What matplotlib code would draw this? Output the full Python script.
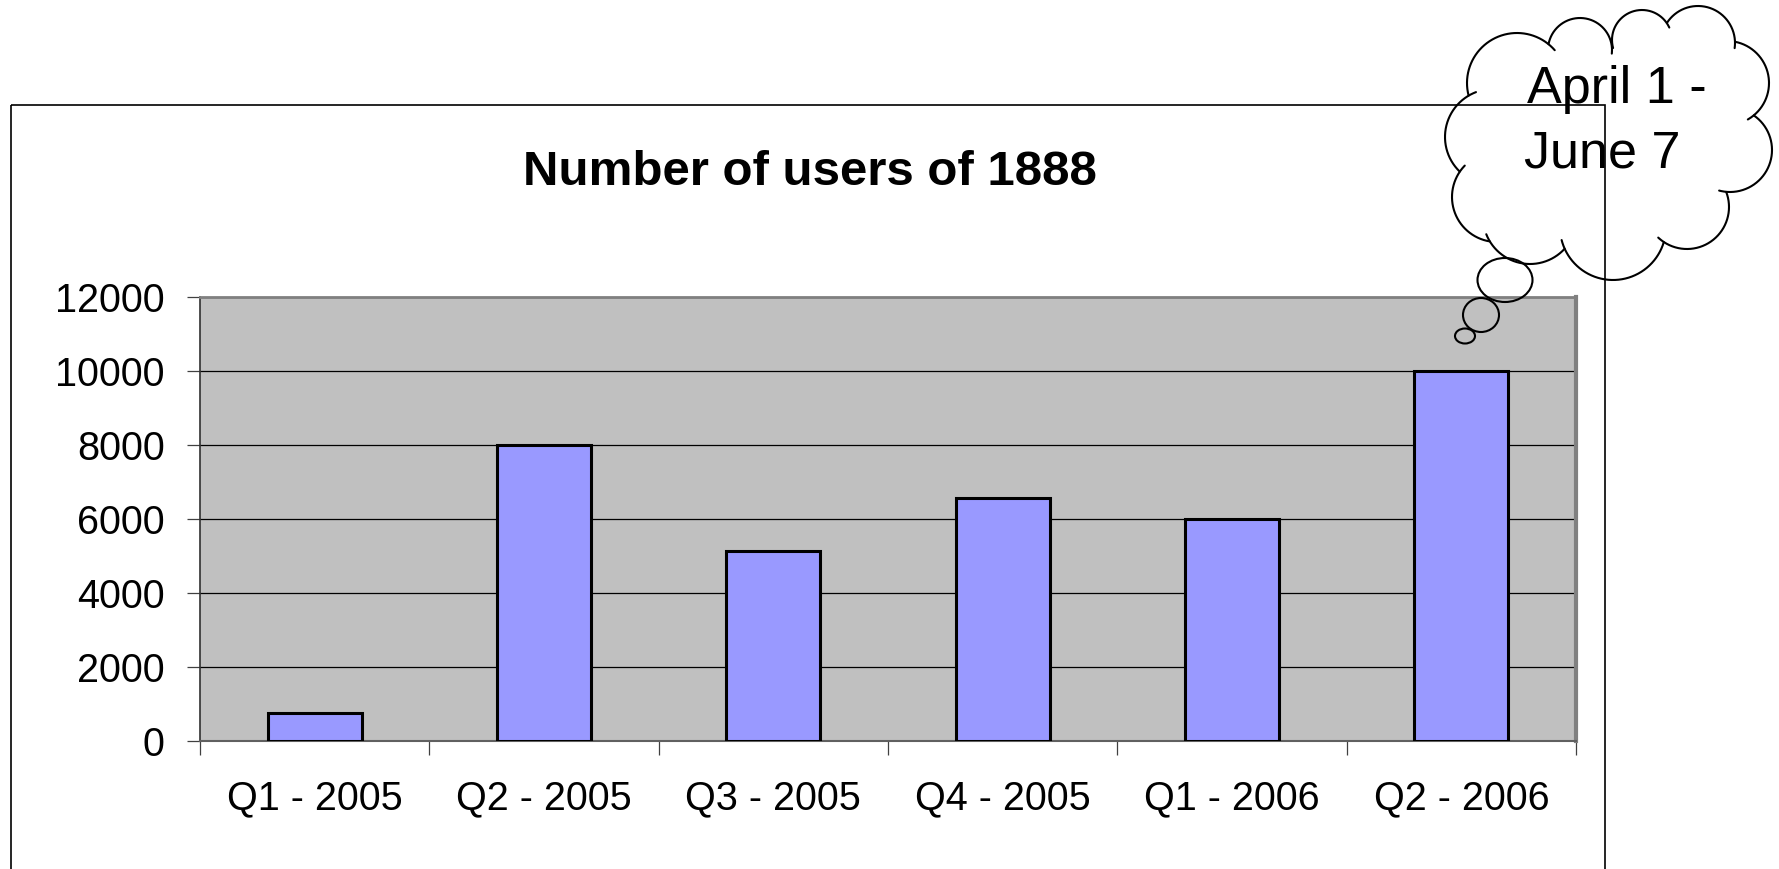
import numpy as np
import matplotlib
matplotlib.use("Agg")
import matplotlib.pyplot as plt
from matplotlib.patches import Rectangle, Ellipse

categories = ["Q1 - 2005", "Q2 - 2005", "Q3 - 2005", "Q4 - 2005", "Q1 - 2006", "Q2 - 2006"]
users = [750, 8000, 5130, 6550, 6000, 10000]
y_ticks = [0, 2000, 4000, 6000, 8000, 10000, 12000]
title = "Number of users of 1888"
note_lines = ["April 1 -", "June 7"]

W, H = 1779, 869
DPI = 100
plt.rcParams['font.family'] = ['Liberation Sans', 'DejaVu Sans']

fig = plt.figure(figsize=(W / DPI, H / DPI), dpi=DPI)
fig.patch.set_facecolor('white')

# overlay in pixel coordinates (y down) for decorations
ov = fig.add_axes([0, 0, 1, 1], zorder=0)
ov.set_xlim(0, W)
ov.set_ylim(H, 0)
ov.axis('off')
ov.add_patch(Rectangle((11, 105), 1605 - 11, 900 - 105, fill=False,
                       edgecolor='black', lw=1.2, clip_on=False))

# main chart
px_l, px_r, px_t, px_b = 200, 1576, 297, 740.5
ax = fig.add_axes([px_l / W, (H - px_b) / H, (px_r - px_l) / W, (px_b - px_t) / H], zorder=1)
ax.set_facecolor('#C0C0C0')
x = np.arange(len(categories))
ax.set_axisbelow(True)
ax.yaxis.grid(True, color='black', lw=0.9)
ax.bar(x, users, width=0.41, color='#9999FF', edgecolor='black', linewidth=2.2, zorder=3)
ax.set_xlim(-0.5, len(categories) - 0.5)
ax.set_ylim(0, 12000)
ax.set_yticks(y_ticks)
ax.set_yticklabels([str(v) for v in y_ticks], fontsize=28.5)
ax.set_xticks(x)
ax.set_xticklabels(categories, fontsize=28.5)
ax.set_xticks(np.arange(-0.5, len(categories)), minor=True)
ax.tick_params(axis='x', which='major', length=0, pad=28)
ax.tick_params(axis='x', which='minor', length=10, width=0.9, color='#404040', direction='out')
ax.tick_params(axis='y', which='major', length=9.5, width=0.9, color='#404040', direction='out', pad=16)
for s in ['top', 'right']:
    ax.spines[s].set_color('#808080')
ax.spines['top'].set_linewidth(2)
ax.spines['right'].set_linewidth(3)
ax.spines['left'].set_color('#303030')
ax.spines['left'].set_linewidth(1.2)
ax.spines['bottom'].set_color('#606060')
ax.spines['bottom'].set_linewidth(1.5)

# title and cloud overlay
top = fig.add_axes([0, 0, 1, 1], zorder=2)
top.set_xlim(0, W)
top.set_ylim(H, 0)
top.axis('off')
top.patch.set_alpha(0)
top.text(810, 185, title, ha='center', va='baseline', fontsize=35.5, fontweight='bold')

# cloud callout
lobes = [(1517, 83, 50), (1580, 50, 32), (1642, 40, 30), (1698, 43, 37),
         (1727, 83, 42), (1730, 150, 42), (1687, 207, 42), (1613, 227, 53),
         (1530, 217, 47), (1497, 197, 45), (1493, 137, 48)]
mask_only = [(1615, 140, 92)]
allc = lobes + mask_only
N = 1440
th = np.linspace(0, 2 * np.pi, N, endpoint=False)


def largest_run(mask):
    n = len(mask)
    if mask.all():
        return mask.copy()
    start = int(np.argmin(mask))  # a False position
    rolled = np.roll(mask, -start)
    best, best_len, cur_s, cur_len = None, 0, None, 0
    for k in range(n):
        if rolled[k]:
            if cur_s is None:
                cur_s, cur_len = k, 0
            cur_len += 1
            if cur_len > best_len:
                best, best_len = cur_s, cur_len
        else:
            cur_s = None
    out = np.zeros(n, bool)
    if best is not None:
        out[best:best + best_len] = True
    return np.roll(out, start)


for i, (cx, cy, r) in enumerate(lobes):
    px = cx + r * np.cos(th)
    py = cy + r * np.sin(th)
    vis = np.ones(N, bool)
    for j, (ox, oy, orr) in enumerate(allc):
        if j == i:
            continue
        vis &= (px - ox) ** 2 + (py - oy) ** 2 > orr ** 2
    vis = largest_run(vis)
    ext = vis | np.roll(vis, 40)
    xs = np.where(ext, px, np.nan)
    ys = np.where(ext, py, np.nan)
    if ext[0] and ext[-1]:
        xs = np.append(xs, xs[0]); ys = np.append(ys, ys[0])
    top.plot(xs, ys, color='black', lw=1.5, solid_capstyle='round')

for (cx, cy, w, h) in [(1505, 280, 55, 44), (1481, 315, 36, 34), (1465, 336, 20, 15)]:
    top.add_patch(Ellipse((cx, cy), w, h, fill=False, edgecolor='black', lw=1.5))

top.text(1617, 103, note_lines[0], ha='center', va='baseline', fontsize=37.5)
top.text(1602, 167, note_lines[1], ha='center', va='baseline', fontsize=37.5)

fig.savefig('out.png', dpi=DPI, facecolor='white')
